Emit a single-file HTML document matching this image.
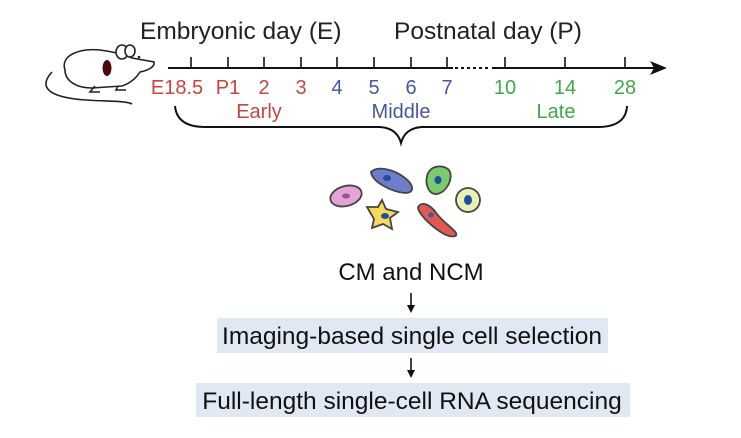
<!DOCTYPE html>
<html><head><meta charset="utf-8"><style>
html,body{margin:0;padding:0;background:#fff;}
body{width:741px;height:438px;overflow:hidden;position:relative;font-family:"Liberation Sans",Arial,sans-serif;}
</style></head><body>
<svg width="741" height="438" viewBox="0 0 741 438" xmlns="http://www.w3.org/2000/svg" style="position:absolute;left:0;top:0">
<g font-family="Liberation Sans, Arial, sans-serif">
<text x="140" y="39" font-size="24.5" fill="#222">Embryonic day (E)</text>
<text x="394" y="39" font-size="24.5" fill="#222">Postnatal day (P)</text>
<!-- axis -->
<line x1="168" y1="68" x2="453" y2="68" stroke="#111" stroke-width="2"/>
<line x1="455" y1="68" x2="490" y2="68" stroke="#111" stroke-width="2" stroke-dasharray="3,3"/>
<line x1="492" y1="68" x2="656" y2="68" stroke="#111" stroke-width="2"/>
<polygon points="667,68 650,61 654,68 650,75" fill="#111"/>
<g stroke="#111" stroke-width="1.6">
<line x1="191" y1="57" x2="191" y2="68"/><line x1="228" y1="57" x2="228" y2="68"/>
<line x1="264" y1="57" x2="264" y2="68"/><line x1="301" y1="57" x2="301" y2="68"/>
<line x1="337" y1="57" x2="337" y2="68"/><line x1="374" y1="57" x2="374" y2="68"/>
<line x1="411" y1="57" x2="411" y2="68"/><line x1="447" y1="57" x2="447" y2="68"/>
<line x1="505" y1="57" x2="505" y2="68"/><line x1="565" y1="57" x2="565" y2="68"/>
<line x1="625" y1="57" x2="625" y2="68"/>
</g>
<g font-size="20" text-anchor="middle">
<text x="177" y="94" fill="#c9433f">E18.5</text>
<text x="228" y="94" fill="#c9433f">P1</text>
<text x="264" y="94" fill="#c9433f">2</text>
<text x="301" y="94" fill="#c9433f">3</text>
<text x="337" y="94" fill="#4a55a0">4</text>
<text x="374" y="94" fill="#4a55a0">5</text>
<text x="411" y="94" fill="#4a55a0">6</text>
<text x="447" y="94" fill="#4a55a0">7</text>
<text x="505" y="94" fill="#3fa84a">10</text>
<text x="565" y="94" fill="#3fa84a">14</text>
<text x="625" y="94" fill="#3fa84a">28</text>
<text x="259" y="118" fill="#c9433f">Early</text>
<text x="401" y="118" fill="#4a55a0">Middle</text>
<text x="556" y="118" fill="#3fa84a">Late</text>
</g>
<!-- brace -->
<path d="M175,106 Q177,127 205,127 L380,127 Q397,128 401,143 Q405,128 422,127 L600,127 Q626,126 627,106" fill="none" stroke="#111" stroke-width="2"/>
<!-- mouse -->
<g stroke="#222" stroke-width="1.6" fill="#fff">
<path d="M52,72 C40,85 45,95 75,99 C100,102 125,100 132,104" fill="none"/>
<path d="M65,70 C60,55 80,48 100,50 C115,52 125,55 132,58 L154,62 C155,66 150,70 140,72 C135,80 128,84 122,86 L92,88 C75,88 65,80 65,70 Z"/>
<ellipse cx="122" cy="52" rx="6" ry="7"/>
<ellipse cx="130" cy="51" rx="5" ry="6"/>
<path d="M95,86 L90,92 L100,92 M118,86 L116,90 L126,90" fill="none"/>
</g>
<ellipse cx="107" cy="68" rx="4.5" ry="8" fill="#4a0a0a"/>
<circle cx="139" cy="57" r="1.3" fill="#222"/>
<!-- cells -->
<g stroke="#444" stroke-width="1.8">
<ellipse cx="346" cy="196" rx="16" ry="10" transform="rotate(-15 346 196)" fill="#e5a4d8"/>
<ellipse cx="346" cy="196" rx="4" ry="2.5" fill="#a14d9c" stroke="none"/>
<path d="M371,172 C378,165 395,170 405,178 C414,185 415,193 405,193 C392,192 372,182 371,172 Z" fill="#6f7cc9"/>
<ellipse cx="387" cy="178" rx="4" ry="3" fill="#1f4fa0" stroke="none"/>
<path d="M427,176 C430,165 443,164 449,170 C454,178 447,192 437,194 C429,195 425,185 427,176 Z" fill="#7acb6e"/>
<ellipse cx="438" cy="180" rx="3.5" ry="4" fill="#1f4fa0" stroke="none"/>
<circle cx="468" cy="200" r="12" fill="#e8f0b8"/>
<ellipse cx="468" cy="200" rx="4" ry="5" fill="#1f4fa0" stroke="none"/>
<path d="M367,207 L378,207 L382,200 L386,209 L398,212 L390,218 L392,229 L383,224 L372,228 L374,219 Z" fill="#f7d85a"/>
<ellipse cx="385" cy="216" rx="4" ry="3" fill="#1f4fa0" stroke="none"/>
<path d="M418,207 C422,201 430,204 437,214 C445,224 453,228 456,233 C458,238 450,237 444,234 C433,228 418,214 418,207 Z" fill="#e05a55"/>
<ellipse cx="431" cy="215" rx="3" ry="2.5" fill="#4a55a0" stroke="none"/>
</g>
<text x="411" y="280" font-size="24" fill="#111" text-anchor="middle">CM and NCM</text>
<!-- arrows -->
<line x1="411" y1="293" x2="411" y2="308" stroke="#111" stroke-width="1.6"/>
<polygon points="411,313 407,305 415,305" fill="#111"/>
<rect x="217" y="318" width="391" height="35" fill="#dfe8f3"/>
<text x="412" y="344" font-size="24.5" fill="#111" text-anchor="middle">Imaging-based single cell selection</text>
<line x1="411" y1="358" x2="411" y2="373" stroke="#111" stroke-width="1.6"/>
<polygon points="411,378 407,370 415,370" fill="#111"/>
<rect x="196" y="383" width="434" height="34" fill="#dfe8f3"/>
<text x="412" y="409" font-size="24.5" fill="#111" text-anchor="middle">Full-length single-cell RNA sequencing</text>
</g>
</svg>
</body></html>
